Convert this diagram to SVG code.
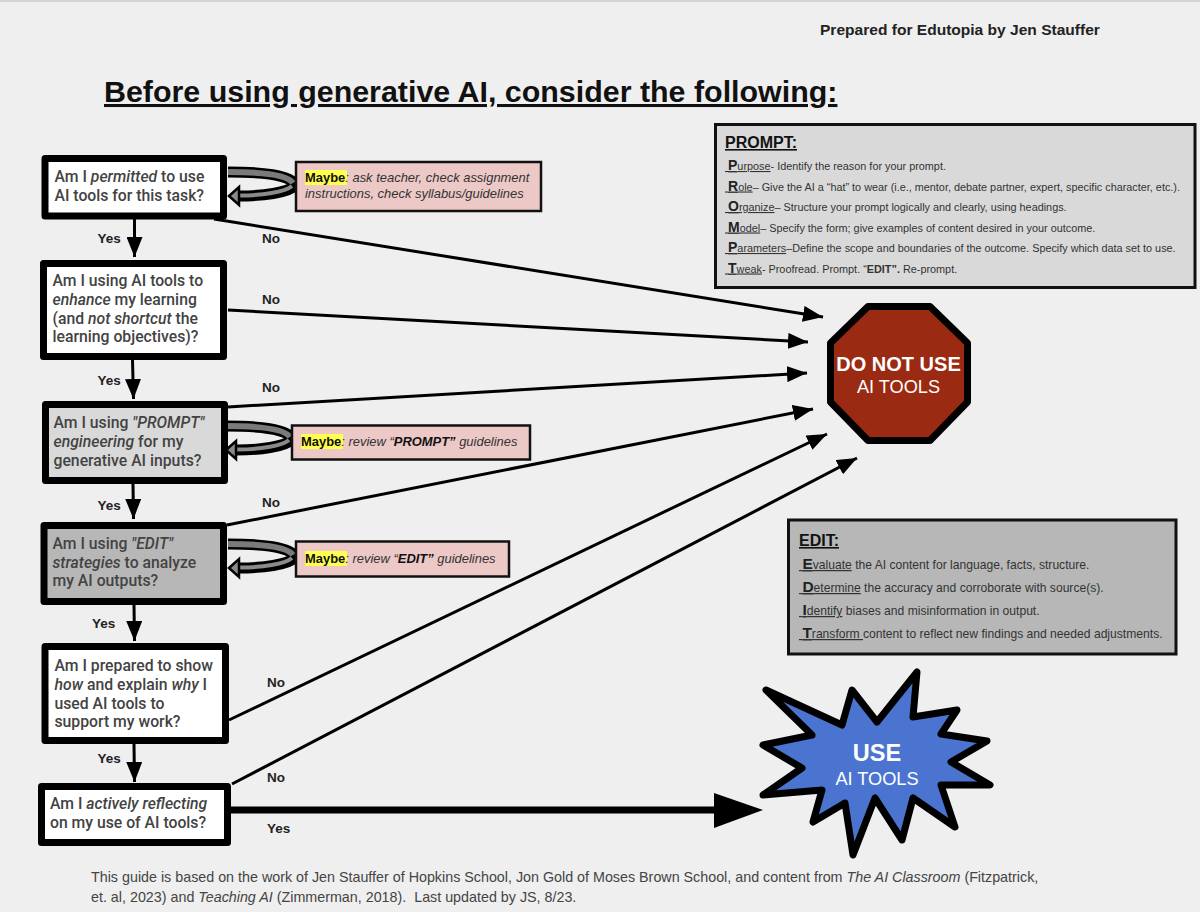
<svg xmlns="http://www.w3.org/2000/svg" width="1200" height="912" viewBox="0 0 1200 912">
<style>
text{font-family:"Liberation Sans",Arial,sans-serif;white-space:pre}
.q{font-family:Roboto,"Liberation Sans",sans-serif;font-size:15.75px;font-weight:500;fill:#434343}
.box{stroke:#000;stroke-width:7;stroke-linejoin:round}
.w{fill:#fff}
.lab{font-family:Roboto,"Liberation Sans",sans-serif;font-size:13.5px;font-weight:700;fill:#222}
.m{fill:#ecc9c6;stroke:#111;stroke-width:2.5}
.mt{font-size:12.95px;font-style:italic;fill:#333}
.mb{font-style:normal;font-weight:700;fill:#111}
.mi{font-style:italic;font-weight:700;fill:#111}
.hl{fill:#ffff4d}
.u{text-decoration:underline}
.cap{font-size:16px;font-weight:700;fill:#111;text-decoration:underline}
.p{font-size:10.85px;fill:#333}
.e{font-size:12.12px;fill:#333}
.big{font-weight:700;fill:#222}
.con{fill:none;stroke:#000;stroke-width:3}
</style>
<defs>
<marker id="ah" markerUnits="userSpaceOnUse" markerWidth="21" markerHeight="16" refX="20" refY="8" orient="auto"><path d="M0,0L20,8L0,16z" fill="#000"/></marker>
<g id="loop">
<path d="M0,-14C34,-14 62,-11 68,-1C60,7 34,10 12,10" fill="none" stroke="#000" stroke-width="11"/>
<path d="M0,-14C34,-14 60,-11 65,-3" fill="none" stroke="#7a7a7a" stroke-width="6"/>
<path d="M64,0C57,6 34,9.500 12,9.500" fill="none" stroke="#8a8a8a" stroke-width="4"/>
<path d="M1,10L11,1V19z" fill="#8a8a8a" stroke="#000" stroke-width="2.500"/>
</g>
</defs>
<rect width="1200" height="912" fill="#efefef"/>
<rect width="1200" height="2" fill="#d4d4d4"/>
<text x="820" y="35" font-size="15.55" font-weight="700" fill="#222">Prepared for Edutopia by Jen Stauffer</text>
<text x="104" y="102" font-size="30.4" font-weight="700" fill="#111" class="u">Before using generative AI, consider the following:</text>

<g id="connectors">
<g class="con">
<line x1="214" y1="219" x2="823" y2="317" marker-end="url(#ah)"/>
<line x1="228" y1="310" x2="808" y2="342" marker-end="url(#ah)"/>
<line x1="228" y1="407" x2="807" y2="373" marker-end="url(#ah)"/>
<line x1="227" y1="525" x2="813" y2="409" marker-end="url(#ah)"/>
<line x1="229" y1="720" x2="827" y2="434" marker-end="url(#ah)"/>
<line x1="232" y1="784" x2="857" y2="458" marker-end="url(#ah)"/>
<line x1="134.500" y1="219" x2="134.500" y2="257" marker-end="url(#ah)"/>
<line x1="132.500" y1="360" x2="133.500" y2="399" marker-end="url(#ah)"/>
<line x1="133" y1="484" x2="133.500" y2="519" marker-end="url(#ah)"/>
<line x1="134" y1="605" x2="134.500" y2="641" marker-end="url(#ah)"/>
<line x1="134" y1="744" x2="134.500" y2="782" marker-end="url(#ah)"/>
</g>
<line x1="231" y1="810" x2="720" y2="810" stroke="#000" stroke-width="7"/>
<path d="M714,793L763,810L714,828z" fill="#000"/>
<use href="#loop" x="228" y="186"/>
<use href="#loop" x="225" y="440"/>
<use href="#loop" x="228" y="558"/>
<g class="lab">
<text x="97.500" y="243">Yes</text><text x="97.500" y="385">Yes</text><text x="97.500" y="510">Yes</text><text x="92" y="628">Yes</text><text x="97.500" y="763">Yes</text><text x="267" y="833">Yes</text>
<text x="262" y="243">No</text><text x="262" y="304">No</text><text x="262" y="392">No</text><text x="262" y="507">No</text><text x="267" y="687">No</text><text x="267" y="782">No</text>
</g>
</g>

<g id="q1"><rect class="box w" x="45" y="158.500" width="178.500" height="57.500"/>
<text class="q" x="54.500" y="182">Am I <tspan font-style="italic">permitted</tspan> to use</text><text class="q" x="54.500" y="201">AI tools for this task?</text></g>
<g id="q2"><rect class="box w" x="43.500" y="263.500" width="180" height="93"/>
<text class="q" x="52.500" y="286">Am I using AI tools to</text><text class="q" x="52.500" y="305"><tspan font-style="italic">enhance</tspan> my learning</text><text class="q" x="52.500" y="323.500">(and <tspan font-style="italic">not shortcut</tspan> the</text><text class="q" x="52.500" y="342">learning objectives)?</text></g>
<g id="q3"><rect class="box" fill="#d9d9d9" x="45.500" y="404.500" width="179" height="76"/>
<text class="q" x="53.500" y="428">Am I using <tspan font-style="italic">"PROMPT"</tspan></text><text class="q" x="53.500" y="447"><tspan font-style="italic">engineering</tspan> for my</text><text class="q" x="53.500" y="466">generative AI inputs?</text></g>
<g id="q4"><rect class="box" fill="#b7b7b7" x="44" y="525.500" width="179.500" height="76"/>
<text class="q" x="52.500" y="549">Am I using <tspan font-style="italic">"EDIT"</tspan></text><text class="q" x="52.500" y="568"><tspan font-style="italic">strategies</tspan> to analyze</text><text class="q" x="52.500" y="586">my AI outputs?</text></g>
<g id="q5"><rect class="box w" x="45" y="646.500" width="180.500" height="94"/>
<text class="q" x="54.500" y="671">Am I prepared to show</text><text class="q" x="54.500" y="690"><tspan font-style="italic">how</tspan> and explain <tspan font-style="italic">why</tspan> I</text><text class="q" x="54.500" y="708.500">used AI tools to</text><text class="q" x="54.500" y="727">support my work?</text></g>
<g id="q6"><rect class="box w" x="41.500" y="786.500" width="186" height="56"/>
<text class="q" x="50" y="809">Am I <tspan font-style="italic">actively reflecting</tspan></text><text class="q" x="50" y="828">on my use of AI tools?</text></g>

<g id="maybe1"><rect class="m" x="296" y="162" width="245" height="49"/>
<rect class="hl" x="305" y="170" width="42" height="15"/>
<text class="mt" x="305" y="182"><tspan class="mb">Maybe</tspan>: ask teacher, check assignment</text><text class="mt" x="305" y="198">instructions, check syllabus/guidelines</text></g>
<g id="maybe2"><rect class="m" x="292" y="425.500" width="238" height="34"/>
<rect class="hl" x="301" y="434" width="42" height="15"/>
<text class="mt" x="301" y="446"><tspan class="mb">Maybe</tspan>: review “<tspan class="mi">PROMPT”</tspan> guidelines</text></g>
<g id="maybe3"><rect class="m" x="296" y="541.500" width="213" height="35"/>
<rect class="hl" x="305" y="551" width="42" height="15"/>
<text class="mt" x="305" y="563"><tspan class="mb">Maybe</tspan>: review “<tspan class="mi">EDIT”</tspan> guidelines</text></g>

<g id="prompt"><rect x="715.500" y="124.500" width="479.500" height="163" fill="#d9d9d9" stroke="#111" stroke-width="3"/>
<text class="cap" x="725" y="148">PROMPT:</text>
<g class="p">
<text x="725" y="170"><tspan class="u"> <tspan class="big" font-size="14">P</tspan>urpose</tspan>- Identify the reason for your prompt.</text>
<text x="725" y="190.500"><tspan class="u"> <tspan class="big" font-size="14">R</tspan>ole</tspan>– Give the AI a “hat” to wear (i.e., mentor, debate partner, expert, specific character, etc.).</text>
<text x="725" y="211"><tspan class="u"> <tspan class="big" font-size="14">O</tspan>rganize</tspan>– Structure your prompt logically and clearly, using headings.</text>
<text x="725" y="231.500"><tspan class="u"> <tspan class="big" font-size="14">M</tspan>odel</tspan>– Specify the form; give examples of content desired in your outcome.</text>
<text x="725" y="252"><tspan class="u"> <tspan class="big" font-size="14">P</tspan>arameters</tspan>–Define the scope and boundaries of the outcome. Specify which data set to use.</text>
<text x="725" y="272.500"><tspan class="u"> <tspan class="big" font-size="14">T</tspan>weak</tspan>- Proofread. Prompt. “<tspan font-weight="700">EDIT”.</tspan> Re-prompt.</text>
</g></g>

<g id="edit"><rect x="788.500" y="520" width="387.500" height="134" fill="#b7b7b7" stroke="#111" stroke-width="3"/>
<text class="cap" x="799" y="546">EDIT:</text>
<g class="e">
<text x="799" y="569"><tspan class="u"> <tspan class="big" font-size="15.500">E</tspan>valuate</tspan> the AI content for language, facts, structure.</text>
<text x="799" y="592"><tspan class="u"> <tspan class="big" font-size="15.500">D</tspan>etermine</tspan> the accuracy and corroborate with source(s).</text>
<text x="799" y="615"><tspan class="u"> <tspan class="big" font-size="15.500">I</tspan>dentify</tspan> biases and misinformation in output.</text>
<text x="799" y="638"><tspan class="u"> <tspan class="big" font-size="15.500">T</tspan>ransform </tspan>content to reflect new findings and needed adjustments.</text>
</g></g>

<g id="stop"><path d="M868,306.500H930L967.500,343V402L930,440.500H868L830.500,402V343z" fill="#9b2a12" stroke="#000" stroke-width="7" stroke-linejoin="round"/>
<text x="898.500" y="371" text-anchor="middle" font-size="20" font-weight="700" fill="#fff">DO NOT USE</text>
<text x="898.500" y="393" text-anchor="middle" font-size="18.200" fill="#fff">AI TOOLS</text></g>

<g id="use"><path d="M917,672L913,717L957,710L941,734L987,741L951,762L990,785L941,785L955,827L913,798L902,840L875,798L853,855L845,803L813,822L822,790L763,795L802,768L763,745L812,735L766,690L842,725L852,690L877,722z" fill="#4a74cf" stroke="#000" stroke-width="7" stroke-linejoin="round"/>
<text x="877" y="761" text-anchor="middle" font-size="23.500" font-weight="700" fill="#fff">USE</text>
<text x="877" y="785" text-anchor="middle" font-size="18.200" fill="#fff">AI TOOLS</text></g>

<g font-size="14.3" fill="#444">
<text x="91" y="882">This guide is based on the work of Jen Stauffer of Hopkins School, Jon Gold of Moses Brown School, and content from <tspan font-style="italic">The AI Classroom</tspan> (Fitzpatrick,</text>
<text x="91" y="902">et. al, 2023) and <tspan font-style="italic">Teaching AI</tspan> (Zimmerman, 2018).  Last updated by JS, 8/23.</text>
</g>
</svg>
